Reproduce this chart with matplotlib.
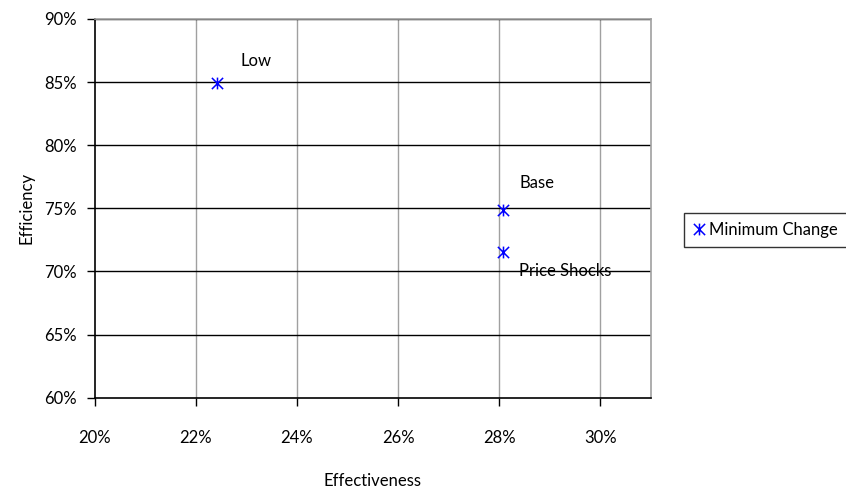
import matplotlib
matplotlib.use("Agg")
import matplotlib.pyplot as plt
from matplotlib.path import Path
from matplotlib.ticker import PercentFormatter

plt.rcParams['font.family'] = ['Lato', 'DejaVu Sans']

# scenario results (fractions)
scenarios = ['Low', 'Base', 'Price Shocks']
effectiveness = [0.2241, 0.2807, 0.2807]
efficiency = [0.849, 0.7487, 0.7156]

# label offsets in pixels (dx, dy), y up
label_offsets = [(24, 22), (17, 27), (16, -19)]

# star marker: an X crossed by a vertical bar
star = Path([(-1, -1), (1, 1), (-1, 1), (1, -1), (0, -1.05), (0, 1.05)],
            [Path.MOVETO, Path.LINETO, Path.MOVETO, Path.LINETO,
             Path.MOVETO, Path.LINETO])

fig = plt.figure(figsize=(8.46, 4.9), dpi=100)
ax = fig.add_axes([94.7 / 846, 92.3 / 490, 556.3 / 846, 378.7 / 490])

ax.plot(effectiveness, efficiency, linestyle='none', marker=star,
        markersize=8.5, markeredgewidth=1.1, color='#0000ff',
        label='Minimum Change')

for name, x, y, (dx, dy) in zip(scenarios, effectiveness, efficiency, label_offsets):
    ax.annotate(name, (x, y), xytext=(dx * 0.72, dy * 0.72),
                textcoords='offset points', ha='left', va='center',
                fontsize=12)

ax.set_xlim(0.20, 0.31)
ax.set_ylim(0.60, 0.90)
ax.set_xticks([0.20, 0.22, 0.24, 0.26, 0.28, 0.30])
ax.set_yticks([0.60, 0.65, 0.70, 0.75, 0.80, 0.85, 0.90])
ax.xaxis.set_major_formatter(PercentFormatter(1.0, decimals=0))
ax.yaxis.set_major_formatter(PercentFormatter(1.0, decimals=0))

# grid: grey verticals, black horizontals
for xv in [0.22, 0.24, 0.26, 0.28, 0.30]:
    ax.axvline(xv, color='#a0a0a0', lw=1.0, zorder=0)
for yv in [0.65, 0.70, 0.75, 0.80, 0.85, 0.90]:
    ax.axhline(yv, color='black', lw=1.0, zorder=0)

for side in ['top', 'right']:
    ax.spines[side].set_color('#a0a0a0')
    ax.spines[side].set_linewidth(1.2)
for side in ['left', 'bottom']:
    ax.spines[side].set_color('black')
    ax.spines[side].set_linewidth(1.2)

ax.tick_params(axis='both', direction='out', length=6, width=1.0,
               labelsize=12, color='black')
ax.tick_params(axis='x', pad=17)
ax.tick_params(axis='y', pad=7)

ax.set_xlabel('Effectiveness', fontsize=12, labelpad=20)
ax.set_ylabel('Efficiency', fontsize=12, labelpad=7)

leg = ax.legend(loc='center left', bbox_to_anchor=(1.06, 0.443), fontsize=12,
                frameon=True, fancybox=False, edgecolor='black',
                handlelength=0.7, handletextpad=0.25, borderpad=0.55,
                borderaxespad=0)
leg.get_frame().set_linewidth(1.0)

fig.savefig('out.png', dpi=100)
